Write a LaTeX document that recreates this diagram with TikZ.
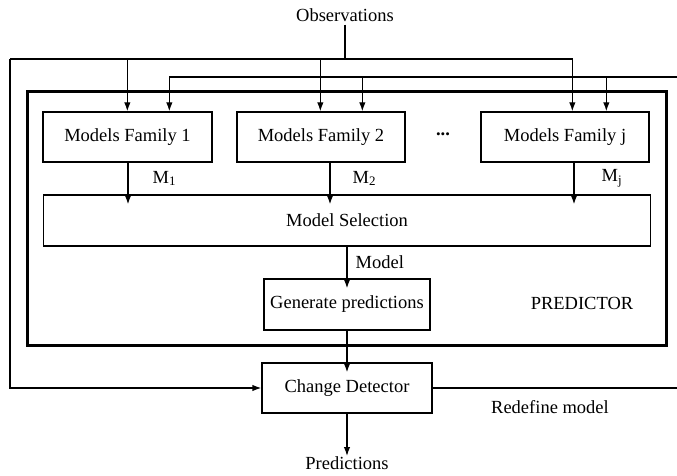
\documentclass[tikz,border=0pt]{standalone}
\usepackage{fontspec}
\setmainfont{Liberation Serif}
\usetikzlibrary{arrows.meta, positioning, calc}

\begin{document}
\begin{tikzpicture}[x=1pt, y=-1pt,
    txt/.style={inner sep=0pt, font=\fontsize{18.5}{22}\selectfont},
    box/.style={draw, line width=1.3pt, minimum height=50pt, inner sep=0pt, font=\fontsize{18.5}{22}\selectfont},
    line/.style={line width=1.3pt},
    arr/.style={line, -{Latex[length=9pt, width=6.5pt]}},
    into/.style={shorten >=-10pt}
]
    \useasboundingbox (0,0) rectangle (677,476);
    \clip (0,0) rectangle (677,476);

    % predictor frame and its blocks
    \node[draw, line width=3pt, minimum width=639pt, minimum height=253pt] (predictor) at (346.5,218.5) {};
    \node[box, minimum width=169pt] (mf1) at (127.5,137) {Models Family 1};
    \node[box, minimum width=168pt] (mf2) at (321,137) {Models Family 2};
    \node[box, minimum width=168pt] (mfj) at (565,137) {Models Family j};
    \node[txt] (dots) at (443,134) {\textbf{...}};
    \node[box, minimum width=607pt, minimum height=51pt] (sel) at (347,220.5) {Model Selection};
    \node[box, minimum width=166pt, minimum height=51pt] (gen) at (347,304.5) {Generate predictions};
    \node[txt] (predlabel) at (582,303) {PREDICTOR};

    \node[box, minimum width=170pt] (det) at (347,388) {Change Detector};
    \node[txt] (obs) at (345,15) {Observations};
    \node[txt, anchor=north] (pred) at (347,456) {Predictions};
    \node[txt] (redef) at (550,407) {Redefine model};

    % observations to every family and to the detector
    \coordinate (obsL) at (10,59);
    \coordinate (obsR) at (573,59);
    \draw[line] (obs.south) ++(0,3) -- (obs |- obsL);
    \draw[line] (obsL) -- (obsR);
    \draw[arr] (obsL) |- (det.west);

    % redefine model feedback
    \coordinate (fbL) at (170,77);
    \coordinate (fbR) at (690,77);
    \draw[line] (det.east) -| (fbR) -- (fbL);

    \foreach \n/\a/\b in {mf1/85/127, mf2/84/126, mfj/92/126}{
        \draw[arr] ($(\n.north west)+(\a,-53)$) -- ($(\n.north west)+(\a,0)$);
        \draw[arr] ($(\n.north west)+(\b,-35)$) -- ($(\n.north west)+(\b,0)$);
    }

    % candidate models into the selection
    \path ([xshift=0.5pt]mf1.south) coordinate (m1) ([xshift=9pt]mf2.south) coordinate (m2) ([xshift=9pt]mfj.south) coordinate (mj);
    \draw[arr, into] (m1) -- (m1 |- sel.north) node[txt, midway, right=24pt] {M\textsubscript{1}};
    \draw[arr, into] (m2) -- (m2 |- sel.north) node[txt, midway, right=22pt] {M\textsubscript{2}};
    \draw[arr, into] (mj) -- (mj |- sel.north) node[txt, midway, right=27pt] {M\textsubscript{j}};

    \draw[arr, into] (sel.south) -- (gen.north) node[txt, midway, right=8pt] {Model};
    \draw[arr, into] (gen.south) -- (det.north);
    \draw[arr] (det.south) -- (pred.north);
\end{tikzpicture}
\end{document}
